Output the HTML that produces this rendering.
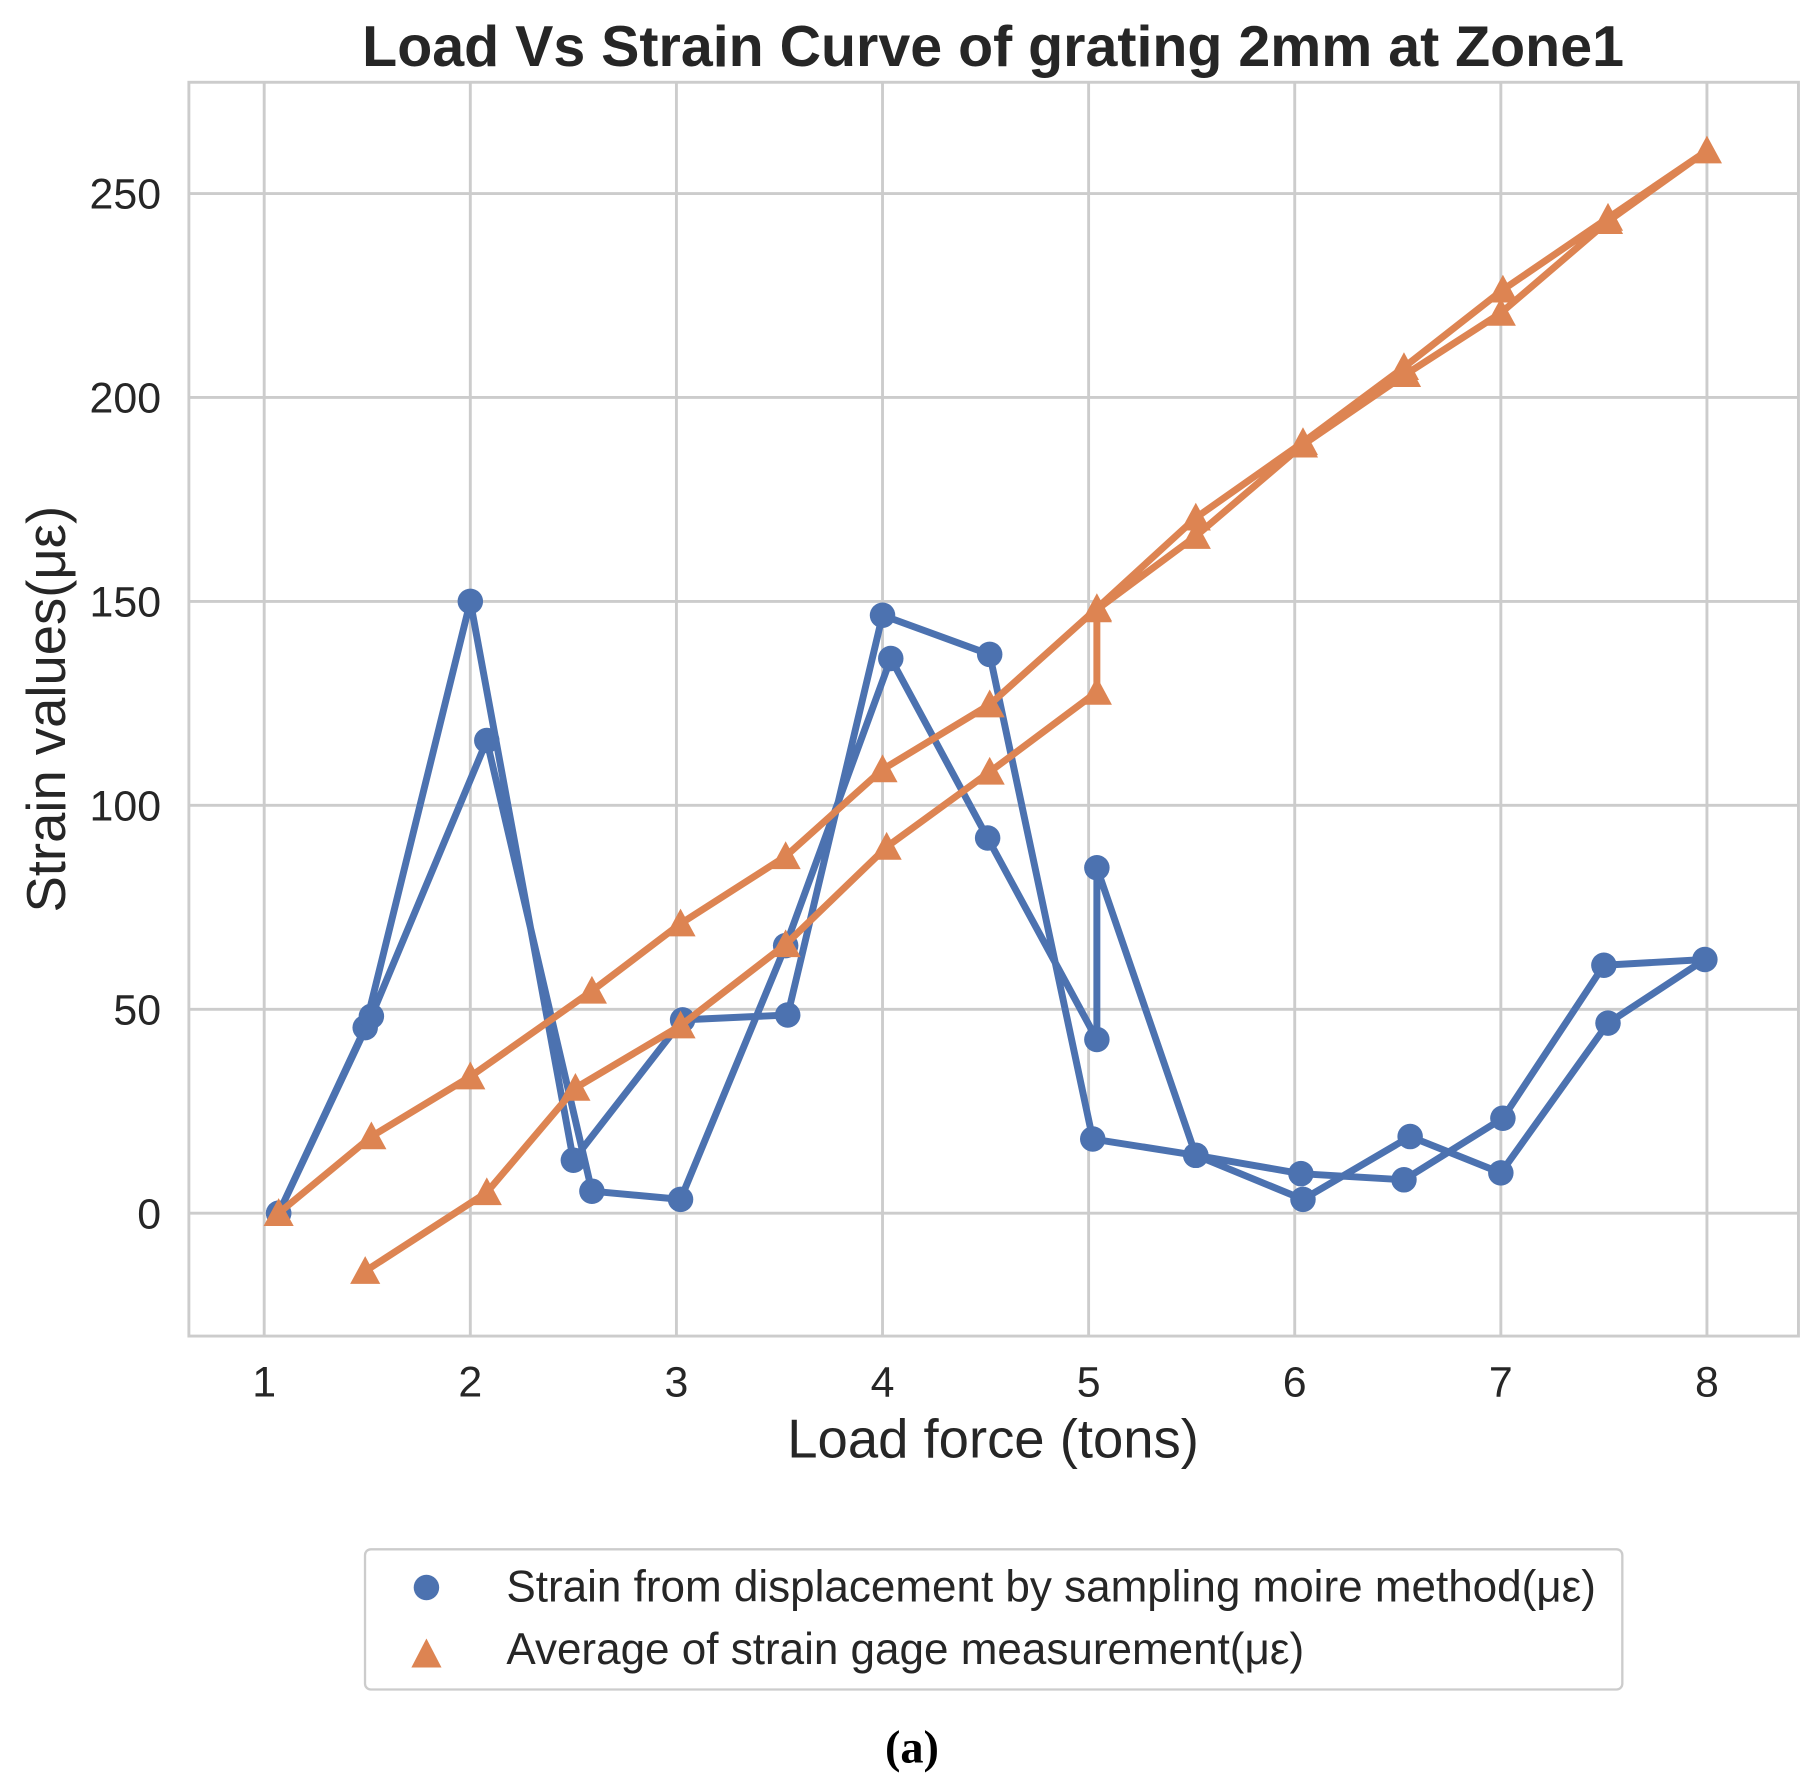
<!DOCTYPE html>
<html><head><meta charset="utf-8"><style>html,body{margin:0;padding:0;background:#fff}svg{display:block}</style></head>
<body>
<svg id="chart" width="1817" height="1791" viewBox="0 0 1568 1545.6" preserveAspectRatio="none" xmlns="http://www.w3.org/2000/svg" font-family="'Liberation Sans', 'DejaVu Sans', sans-serif">
<rect width="1568" height="1546" fill="#fff"/>
<g id="grid"></g>
<rect x="163" y="71" width="1389" height="1082" fill="none" stroke="#cccccc" stroke-width="2.5"/>
<g id="ticks"></g>
<g id="series"></g>
<text x="857" y="57" text-anchor="middle" font-size="49.5" font-weight="bold" fill="#262626">Load Vs Strain Curve of grating 2mm at Zone1</text>
<text x="857" y="1258" text-anchor="middle" font-size="47" fill="#262626">Load force (tons)</text>
<text transform="translate(56,612) rotate(-90)" text-anchor="middle" font-size="47" fill="#262626">Strain values(με)</text>
<g>
<rect x="315" y="1337" width="1085" height="121" rx="5" fill="#fff" stroke="#cccccc" stroke-width="2"/>
<circle cx="368" cy="1370" r="11" fill="#4c72b0"/>
<text x="437" y="1382" font-size="38" fill="#262626">Strain from displacement by sampling moire method(με)</text>
<polygon points="368,1414 381,1439 355,1439" fill="#dd8452"/>
<text x="437" y="1436" font-size="38" fill="#262626">Average of strain gage measurement(με)</text>
</g>
<text x="787" y="1521" text-anchor="middle" font-size="40" font-weight="bold" font-family="'Liberation Serif', serif" fill="#000">(a)</text>
</svg>
<script>
const xTicks = [1,2,3,4,5,6,7,8];
const yTicks = [0,50,100,150,200,250];
const moireX = [1.07,1.49,2.0,2.5,3.03,3.54,4.0,4.52,5.02,5.52,6.03,6.53,7.01,7.5,7.99,7.52,7.0,6.56,6.04,5.52,5.04,5.04,4.51,4.04,3.53,3.02,2.59,2.08,1.52,1.07];
const moireY = [0,45.5,150,13,47.4,48.6,146.6,137,18.2,14.2,9.7,8.2,23.3,60.8,62.2,46.6,9.9,18.8,3.4,14.2,84.7,42.6,92,136,65.6,3.4,5.4,115.9,48.3,0];
const gageX = [1.07,1.52,2.0,2.59,3.02,3.53,4.0,4.52,5.04,5.52,6.04,6.53,7.01,7.52,8.0,7.52,7.0,6.54,6.04,5.52,5.04,5.04,4.52,4.02,3.53,3.02,2.51,2.08,1.49];
const gageY = [0,18.8,33.5,54.5,71,87.5,108.8,124.7,148.3,170.5,189,207.4,226.4,244,260.5,243.2,220.7,205.7,188.4,166,148,127.8,108.2,89.8,65.9,46,30.7,5.1,-14.2];

const NS = 'http://www.w3.org/2000/svg';
function sx(v){ return 228 + (v-1)*177.86; }
function sy(v){ return 1047 - v*3.52; }
function mk(tag, attrs, parent){ const e=document.createElementNS(NS,tag); for(const k in attrs) e.setAttribute(k,attrs[k]); parent.appendChild(e); return e; }
const grid=document.getElementById('grid'), ticks=document.getElementById('ticks'), series=document.getElementById('series');
xTicks.forEach(t=>{
  const l=mk('line',{x1:sx(t),x2:sx(t),y1:71,y2:1153,stroke:'#cccccc','stroke-width':2.5},grid);
  
  
  const tx=mk('text',{x:sx(t),y:1205,'text-anchor':'middle','font-size':37,fill:'#262626'},ticks);
  tx.textContent=t;
  
  
});
yTicks.forEach(t=>{
  const l=mk('line',{x1:163,x2:1552,y1:sy(t),y2:sy(t),stroke:'#cccccc','stroke-width':2.5},grid);
  
  
  const tx=mk('text',{x:139,y:sy(t)+13,'text-anchor':'end','font-size':37,fill:'#262626'},ticks);
  tx.textContent=t;
  
  
});
function drawSeries(xs, ys, color, name, tri){
  const pts = xs.map((x,i)=>sx(x)+','+sy(ys[i])).join(' ');
  const pl = mk('polyline',{points:pts,fill:'none',stroke:color,'stroke-width':6,'stroke-linejoin':'round'},series);
  
  
  xs.forEach((x,i)=>{
    const cx=sx(x), cy=sy(ys[i]);
    let m;
    if(tri){ m = mk('polygon',{points:`${cx},${cy-13} ${cx+13},${cy+11} ${cx-13},${cy+11}`,fill:color},series); }
    else { m = mk('circle',{cx:cx,cy:cy,r:11,fill:color},series); }
    
    
  });
}
drawSeries(moireX, moireY, '#4c72b0', 'moire', false);
drawSeries(gageX, gageY, '#dd8452', 'gage', true);
</script>
</body></html>
